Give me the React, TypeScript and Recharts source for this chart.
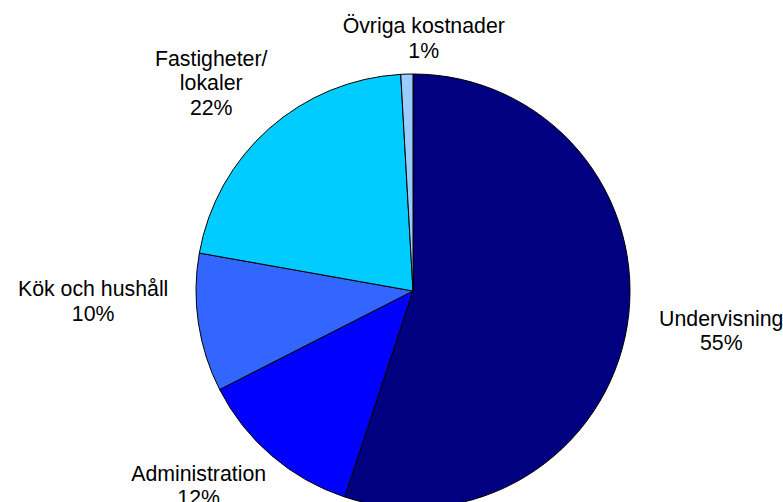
import { PieChart, Pie, Cell } from "recharts";

const categories = ["Undervisning", "Administration", "Kök och hushåll", "Fastigheter/\nlokaler", "Övriga kostnader"];
const shares = [55.1, 12.4, 10.3, 21.3, 0.9];
const percentLabels = ["55%", "12%", "10%", "22%", "1%"];

const colors = ["#000080", "#0000FF", "#3366FF", "#00CCFF", "#99CCFF"];
// pixel nudges from the default label point, to mimic Excel's placement
const labelNudges = [
  [20, -7],
  [-24, -27],
  [-31, -33],
  [-8, 10],
  [19, 39],
];

const data = categories.map((name, i) => ({ name, value: shares[i], pct: percentLabels[i] }));

const RAD = Math.PI / 180;
const FONT = 21.3;
const LINE = 24.5;

function renderLabel(props: any) {
  const { cx, cy, midAngle, outerRadius, index } = props;
  const r = outerRadius + 75;
  const [nx, ny] = labelNudges[index];
  const x = cx + r * Math.cos(-midAngle * RAD) + nx;
  const y = cy + r * Math.sin(-midAngle * RAD) + ny;
  const lines = [...data[index].name.split("\n"), data[index].pct];
  const firstBaseline = y - ((lines.length - 1) * LINE) / 2 + FONT * 0.35;
  return (
    <text
      x={x}
      y={firstBaseline}
      textAnchor="middle"
      fill="#000"
      fontSize={FONT}
      fontFamily="'Liberation Sans', Arial, sans-serif"
    >
      {lines.map((line, i) => (
        <tspan key={i} x={x} dy={i === 0 ? 0 : LINE}>
          {line}
        </tspan>
      ))}
    </text>
  );
}

export default function App() {
  return (
    <div style={{ width: 783, height: 502, background: "#fff" }}>
      <style>{`body{margin:0}`}</style>
      <PieChart width={783} height={502}>
        <Pie
          data={data}
          dataKey="value"
          nameKey="name"
          cx={408}
          cy={286}
          outerRadius={217}
          startAngle={90}
          endAngle={-270}
          stroke="#000"
          strokeWidth={1}
          label={renderLabel}
          labelLine={false}
          isAnimationActive={false}
        >
          {data.map((entry, i) => (
            <Cell key={entry.name} fill={colors[i]} />
          ))}
        </Pie>
      </PieChart>
    </div>
  );
}
